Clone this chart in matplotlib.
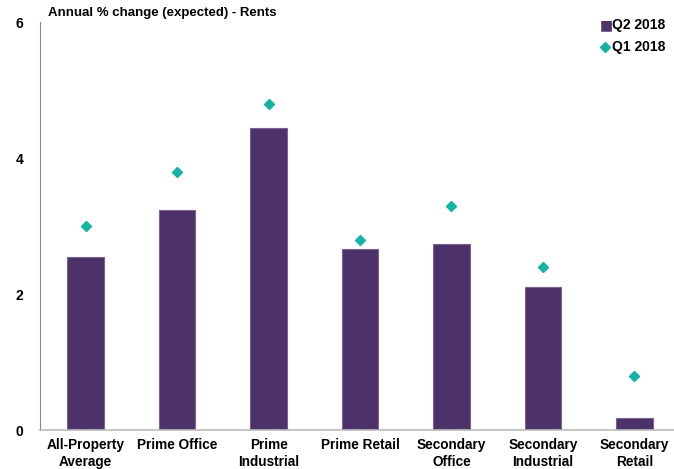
import matplotlib.pyplot as plt
import numpy as np

plt.rcParams['font.family'] = ['Liberation Sans', 'DejaVu Sans']

# === DATA ===
categories = ["All-Property\nAverage", "Prime Office", "Prime\nIndustrial", "Prime Retail",
              "Secondary\nOffice", "Secondary\nIndustrial", "Secondary\nRetail"]
q2_2018 = [2.55, 3.23, 4.44, 2.66, 2.74, 2.10, 0.18]
q1_2018 = [3.00, 3.80, 4.80, 2.80, 3.30, 2.40, 0.79]
y_ticks = [0, 2, 4, 6]

PURPLE = "#4d3169"
TEAL = "#14b3a6"

fig = plt.figure(figsize=(6.74, 4.69), dpi=100)
ax = fig.add_axes([40 / 674, 39 / 469, 640 / 674, 408 / 469])

x = np.arange(len(categories))
ax.bar(x, q2_2018, width=0.4, color=PURPLE, edgecolor="#7a6391", linewidth=0.8,
       label="Q2 2018", zorder=2)
ax.plot(x, q1_2018, linestyle="none", marker="D", markersize=5.5, color=TEAL,
        label="Q1 2018", zorder=3)

ax.set_xlim(-0.5, len(categories) - 0.5)
ax.set_ylim(0, 6)
ax.set_yticks(y_ticks)
ax.set_yticklabels([str(t) for t in y_ticks], fontsize=10, fontweight="bold")
ax.set_xticks(x)
ax.set_xticklabels(categories, fontsize=9.8, fontweight="bold", linespacing=1.2)
ax.tick_params(axis="both", length=0)
ax.tick_params(axis="y", pad=12)
ax.tick_params(axis="x", pad=6)

for side in ["top", "right"]:
    ax.spines[side].set_visible(False)
ax.spines["left"].set_color("#888888")
ax.spines["bottom"].set_color("#bbbbbb")
ax.spines["bottom"].set_linewidth(1.2)

fig.text(48 / 674, 1 - 13 / 469, "Annual % change (expected) - Rents",
         fontsize=9.5, fontweight="bold", va="center", ha="left")

# legend drawn as figure text to match position
fig.text(600 / 674, 1 - 25 / 469, "\u25a0", color=PURPLE, fontsize=10, va="center", ha="left",
         family=["DejaVu Sans"])
fig.text(612 / 674, 1 - 25 / 469, "Q2 2018", fontsize=10, fontweight="bold", va="center", ha="left")
fig.lines.append(plt.Line2D([605 / 674], [1 - 47 / 469], marker="D", markersize=5,
                            color=TEAL, linestyle="none", transform=fig.transFigure))
fig.text(612 / 674, 1 - 47 / 469, "Q1 2018", fontsize=10, fontweight="bold", va="center", ha="left")

plt.savefig("out.png", dpi=100)
plt.close(fig)
